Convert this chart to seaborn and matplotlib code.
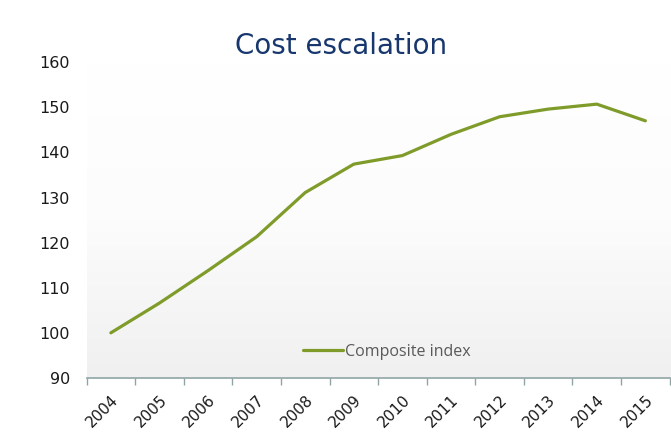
import numpy as np
import seaborn as sns
import matplotlib
matplotlib.use("Agg")
import matplotlib.pyplot as plt
from matplotlib.colors import LinearSegmentedColormap

years = [2004, 2005, 2006, 2007, 2008, 2009, 2010, 2011, 2012, 2013, 2014, 2015]
composite_index = [100.0, 106.6, 113.8, 121.3, 131.1, 137.4, 139.3, 144.0, 147.9, 149.6, 150.7, 147.0]
year_labels = [str(y) for y in years]

sns.set_theme(style="white")
plt.rcParams['font.family'] = ['DejaVu Sans']

fig = plt.figure(figsize=(6.71, 4.41), dpi=100)
ax = fig.add_axes([0.129, 0.143, 0.869, 0.716])

# soft vertical gradient behind the plot
grad = LinearSegmentedColormap.from_list("bg", ["#ffffff", "#fcfcfc", "#f0f0f0"])
ax.imshow(np.linspace(0, 1, 256).reshape(-1, 1), cmap=grad, aspect="auto",
          extent=[0, 1, 0, 1], transform=ax.transAxes, zorder=0)

sns.lineplot(x=years, y=composite_index, ax=ax, color="#7f9c2b", linewidth=2.3,
             label="Composite index", zorder=3)

ax.set_xlim(2003.5, 2015.5)
ax.set_ylim(90, 160)
ax.set_yticks(range(90, 161, 10))
ax.set_xticks(np.arange(2003.5, 2016, 1.0))
ax.set_xticklabels([])
ax.set_xticks(years, minor=True)
ax.set_xticklabels(year_labels, minor=True, rotation=45, ha="right",
                   rotation_mode="anchor", fontsize=11, color="#1a1a1a")
ax.tick_params(axis="x", which="major", direction="out", length=5, width=1,
               color="#8fa5a5", bottom=True)
ax.tick_params(axis="x", which="minor", length=0, pad=10)
ax.tick_params(axis="y", length=0, labelsize=11.5, labelcolor="#1a1a1a", pad=12)

for s in ["top", "right", "left"]:
    ax.spines[s].set_visible(False)
ax.spines["bottom"].set_color("#8fa5a5")
ax.spines["bottom"].set_linewidth(1.2)
ax.set_xlabel("")
ax.set_ylabel("")

fig.text(0.508, 0.895, "Cost escalation", ha="center", va="center",
         fontsize=20, color="#17376e")

leg = ax.legend(loc="lower center", bbox_to_anchor=(0.515, 0.012), frameon=False,
                handlelength=2.5, handletextpad=0.15,
                prop={"family": ["Open Sans", "DejaVu Sans"], "size": 11.5})
for t in leg.get_texts():
    t.set_color("#595959")

fig.savefig("out.png", dpi=100)
